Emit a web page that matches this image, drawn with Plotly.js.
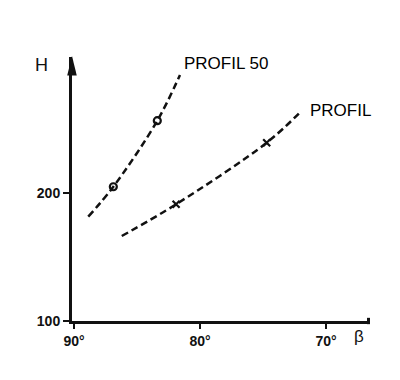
<!DOCTYPE html>
<html><head><meta charset="utf-8">
<script src="https://cdn.plot.ly/plotly-3.0.1.min.js"></script>
<style>body{margin:0;background:#fff}#c{width:400px;height:380px}</style>
</head><body><div id="c"></div>
<script>
// PROFIL 50 curve (beta in degrees, H)
const p50Beta = [88.87, 86.88, 83.39, 81.59];
const p50H    = [181.5, 204.9, 256.5, 292.2];
const p50MarkBeta = [86.88, 83.39];
const p50MarkH    = [204.9, 256.5];
// PROFIL curve
const pBeta = [86.21, 81.90, 74.71, 71.93];
const pH    = [166.4, 191.2, 239.3, 264.3];
const pMarkBeta = [81.90, 74.71];
const pMarkH    = [191.2, 239.3];
const xTickVals = [90, 80, 70];
const xTickText = ['90°', '80°', '70°'];
const yTickVals = [100, 200];
const yTickText = ['100', '200'];

const lineStyle = {color:'#111', width:2.5, dash:'7px,4px', shape:'spline'};
const traces = [
  {x:p50Beta, y:p50H, mode:'lines', line:lineStyle},
  {x:p50MarkBeta, y:p50MarkH, mode:'markers', marker:{symbol:'circle-open', size:7, color:'#111', line:{width:2.2, color:'#111'}}},
  {x:pBeta, y:pH, mode:'lines', line:lineStyle},
  {x:pMarkBeta, y:pMarkH, mode:'markers', marker:{symbol:'x-thin-open', size:7, color:'#111', line:{width:2.2, color:'#111'}}}
];
const tf = {family:'Liberation Sans, Arial, sans-serif', size:14, color:'#111', weight:'bold'};
const lf = {family:'Liberation Sans, Arial, sans-serif', size:17, color:'#000'};
const layout = {
  width:400, height:380,
  margin:{l:72, r:30, t:57, b:59},
  paper_bgcolor:'#fff', plot_bgcolor:'#fff',
  showlegend:false,
  xaxis:{range:[90.16, 66.51], tickvals:xTickVals, ticktext:xTickText, ticks:'outside', ticklen:5, tickwidth:2, tickcolor:'#111',
         showgrid:false, zeroline:false, showline:true, linewidth:3, linecolor:'#111', tickfont:tf, fixedrange:true},
  yaxis:{range:[100, 306.25], tickvals:yTickVals, ticktext:yTickText, ticks:'outside', ticklen:6, tickwidth:2, tickcolor:'#111',
         showgrid:false, zeroline:false, showline:true, linewidth:3, linecolor:'#111', tickfont:tf, fixedrange:true},
  annotations:[
    {xref:'paper', yref:'paper', x:-0.104, y:0.97, xanchor:'center', yanchor:'middle', text:'H', showarrow:false, font:{family:'Liberation Sans, Arial, sans-serif', size:18, color:'#111'}},
    {xref:'paper', yref:'paper', x:0.963, y:-0.06, xanchor:'center', yanchor:'middle', text:'β', showarrow:false, font:{family:'Liberation Sans, Arial, sans-serif', size:17, color:'#111'}},
    {x:81.43, y:300.8, text:'PROFIL 50', showarrow:false, xanchor:'left', yanchor:'middle', font:lf},
    {x:71.43, y:264.1, text:'PROFIL', showarrow:false, xanchor:'left', yanchor:'middle', font:lf}
  ],
  shapes:[
    {type:'path', xref:'paper', yref:'paper', path:'M -0.016,0.93 L 0.016,0.93 L 0,1.004 Z', fillcolor:'#111', line:{width:0}},
    {type:'rect', xref:'paper', yref:'paper', x0:0.99, x1:1.0, y0:-0.012, y1:0.012, fillcolor:'#111', line:{width:0}}
  ]
};
Plotly.newPlot('c', traces, layout, {staticPlot:true});
</script></body></html>
